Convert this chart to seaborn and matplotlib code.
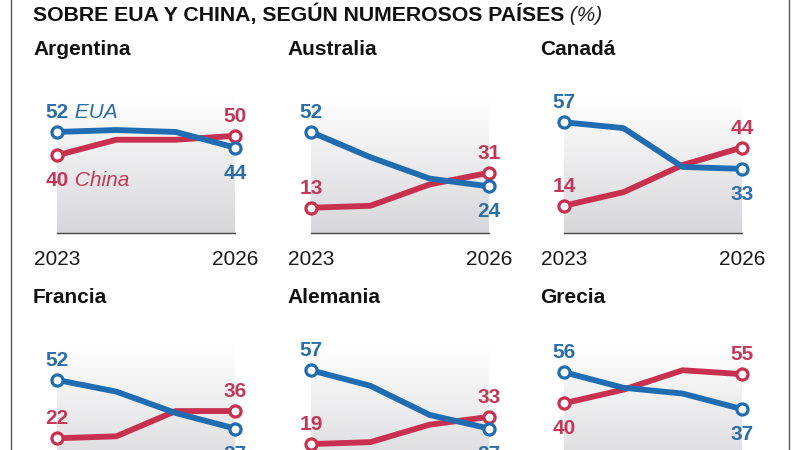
import pandas as pd
import numpy as np
import matplotlib
matplotlib.use('Agg')
import matplotlib.pyplot as plt
import seaborn as sns
from matplotlib.colors import LinearSegmentedColormap
from matplotlib.lines import Line2D

# Datos (% opinión favorable)
anios = [2023, 2024, 2025, 2026]
paises = ['Argentina', 'Australia', 'Canadá', 'Francia', 'Alemania', 'Grecia']

eua_argentina = [52, 53, 52, 44]
china_argentina = [40, 48, 48, 50]
eua_australia = [52, 39, 28, 24]
china_australia = [13, 14, 25, 31]
eua_canada = [57, 54, 34, 33]
china_canada = [14, 21, 35, 44]
eua_francia = [52, 46, 35, 27]
china_francia = [22, 23, 36, 36]
eua_alemania = [57, 49, 34, 27]
china_alemania = [19, 20, 29, 33]
eua_grecia = [56, 48, 45, 37]
china_grecia = [40, 47, 57, 55]

eua = [eua_argentina, eua_australia, eua_canada, eua_francia, eua_alemania, eua_grecia]
china = [china_argentina, china_australia, china_canada, china_francia, china_alemania, china_grecia]

sns.set_style('white')
plt.rcParams['font.family'] = ['Liberation Sans', 'DejaVu Sans']

col_line = {'EUA': '#1f6db0', 'China': '#c8304f'}
col_text = {'EUA': '#2a6fa8', 'China': '#c23858'}

fig = plt.figure(figsize=(8, 4.5), dpi=100)

# layout en pixeles
lefts = [57, 311, 564]
bases = [233, 481]
w_px, h_px = 178, 136

grad = np.linspace(0, 1, 256).reshape(-1, 1)
cmap = LinearSegmentedColormap.from_list('g', ['#d7d7da', '#ffffff'])

for i, pais in enumerate(paises):
    row, col = divmod(i, 3)
    left, base = lefts[col], bases[row]
    ax = fig.add_axes([left / 800, (450 - base) / 450, w_px / 800, h_px / 450])

    ax.imshow(grad, extent=[2023, 2026, 0, 70], origin='lower', aspect='auto', cmap=cmap, zorder=0)

    df = pd.DataFrame({
        'anio': anios * 2,
        'valor': china[i] + eua[i],
        'serie': ['China'] * 4 + ['EUA'] * 4,
    })
    sns.lineplot(data=df, x='anio', y='valor', hue='serie', palette=col_line,
                 linewidth=4.2, legend=False, ax=ax, zorder=3)
    for ln in ax.get_lines():
        ln.set_clip_on(False)
        ln.set_solid_capstyle('round')
        ln.set_solid_joinstyle('round')

    for serie, vals in (('China', china[i]), ('EUA', eua[i])):
        ax.plot([anios[0], anios[-1]], [vals[0], vals[-1]], 'o', ms=8, mfc='white',
                mec=col_line[serie], mew=2.3, clip_on=False, zorder=4)

    # etiquetas de valores
    for k in (0, -1):
        e, c = eua[i][k], china[i][k]
        for serie, v, otro in (('EUA', e, c), ('China', c, e)):
            if v >= otro:
                arriba = True
            elif k == -1:
                arriba = False
            else:
                arriba = v < 30
            dy = 14 if arriba else -31
            t = ax.annotate(str(v), xy=(anios[k], v), xytext=(0, dy), textcoords='offset pixels',
                            ha='center', va='baseline', fontsize=15, fontweight='bold',
                            color=col_text[serie], annotation_clip=False)
            if i == 0 and k == 0:
                ax.annotate(' ' + serie, xy=(1, 0), xycoords=t, ha='left', va='bottom',
                            fontsize=15, fontstyle='italic', color=col_text[serie])

    ax.set_xlim(2023, 2026)
    ax.set_ylim(0, 70)
    ax.set_xticks([2023, 2026])
    ax.set_xticklabels(['2023', '2026'] if row == 0 else [])
    ax.set_yticks([])
    ax.set_xlabel('')
    ax.set_ylabel('')
    for s in ('top', 'left', 'right'):
        ax.spines[s].set_visible(False)
    ax.spines['bottom'].set_color('#444444')
    ax.spines['bottom'].set_linewidth(1)
    ax.tick_params(axis='x', length=5, width=1, color='#444444', labelsize=15,
                   labelcolor='#1a1a1a', pad=7.5, direction='out')

    fig.text((left - 24) / 800, 1 - (base - 178) / 450, pais, fontsize=15,
             fontweight='bold', color='#111111', va='baseline', ha='left')

tt = fig.text(33 / 800, 1 - 21 / 450, 'SOBRE EUA Y CHINA, SEGÚN NUMEROSOS PAÍSES',
              fontsize=15.3, fontweight='bold', color='#111111', va='baseline', ha='left')
plt.annotate(' (%)', xy=(1, 0), xycoords=tt, ha='left', va='bottom', fontsize=15,
             fontstyle='italic', color='#222222')

for x in (11, 789):
    fig.add_artist(Line2D([x / 800, x / 800], [0, 1], color='#555555', lw=1))

fig.savefig('out.png', dpi=100)
